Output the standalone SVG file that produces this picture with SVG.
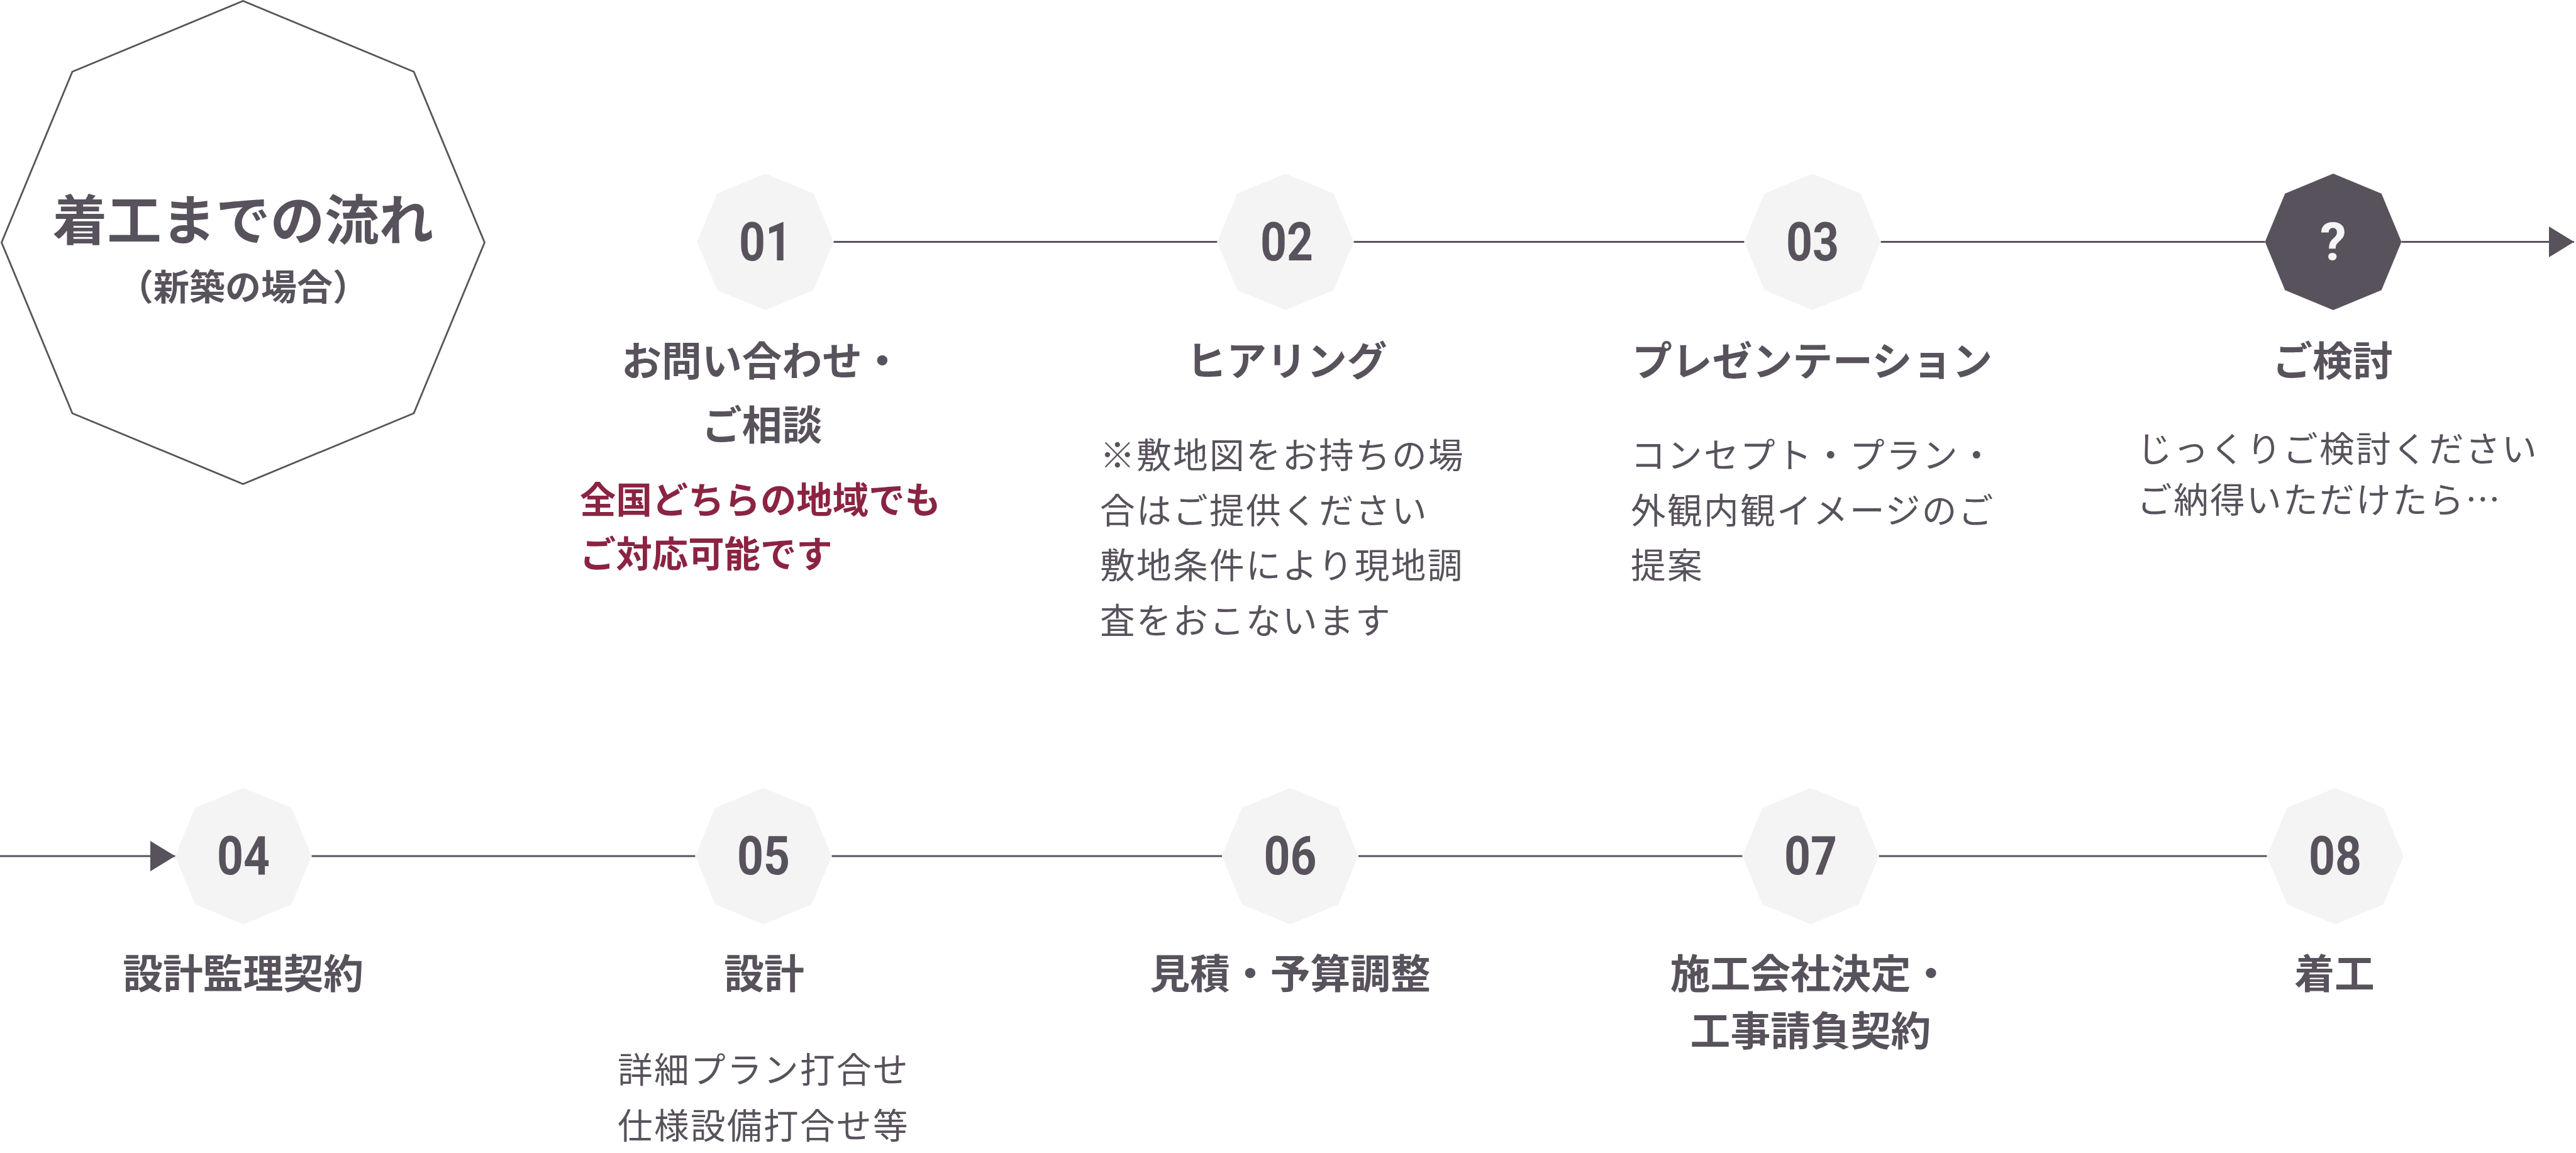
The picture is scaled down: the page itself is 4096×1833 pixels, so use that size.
<svg xmlns="http://www.w3.org/2000/svg" xmlns:xlink="http://www.w3.org/1999/xlink" width="4096" height="1833" viewBox="0 0 4096 1833">
<defs>
<style>
.jp{font-family:"Noto Sans CJK JP","Noto Sans CJK SC",sans-serif;fill:#58525c}
.hd{font-weight:700;font-size:63.8px;text-anchor:middle}
.body{font-weight:400;font-size:55.6px;letter-spacing:2.4px}
.red{font-weight:700;font-size:57.4px;fill:#8a2442}
.num{font-family:Roboto,"Liberation Sans",sans-serif;font-weight:700;font-size:86px;fill:#58525c;text-anchor:middle}
.oct{fill:#f4f4f4}
.conn{stroke:#58525c;stroke-width:3.2;fill:none}
</style>
<polygon id="oct" points="0,-108.5 76.7,-76.7 108.5,0 76.7,76.7 0,108.5 -76.7,76.7 -108.5,0 -76.7,-76.7"/>
<marker id="arr" markerUnits="userSpaceOnUse" markerWidth="42" markerHeight="50" refX="40" refY="24.5" orient="auto">
<path d="M0,0 L40,24.5 L0,49 z" fill="#58525c"/>
</marker>
</defs>
<rect width="4096" height="1833" fill="#ffffff"/>

<g id="connectors">
<line class="conn" x1="1325.5" y1="384.5" x2="1935.5" y2="384.5"/>
<line class="conn" x1="2152.5" y1="384.5" x2="2773.5" y2="384.5"/>
<line class="conn" x1="2990.5" y1="384.5" x2="3601.5" y2="384.5"/>
<line class="conn" x1="3818.5" y1="384.5" x2="4093" y2="384.5" marker-end="url(#arr)"/>
<line class="conn" x1="0" y1="1361" x2="278.5" y2="1361" marker-end="url(#arr)"/>
<line class="conn" x1="495.5" y1="1361" x2="1105.5" y2="1361"/>
<line class="conn" x1="1322.5" y1="1361" x2="1943" y2="1361"/>
<line class="conn" x1="2160" y1="1361" x2="2770.5" y2="1361"/>
<line class="conn" x1="2987.5" y1="1361" x2="3604.5" y2="1361"/>
</g>

<g id="title">
<polygon points="386.5,1.5 658,114 770.5,385.5 658,657 386.5,769.5 115,657 2.5,385.5 115,114" fill="none" stroke="#58525c" stroke-width="2.8"/>
<text class="jp" x="386.5" y="382" font-size="86.5" font-weight="700" text-anchor="middle">着工までの流れ</text>
<text class="jp" x="386.5" y="477" font-size="57" font-weight="700" text-anchor="middle">（新築の場合）</text>
</g>

<g id="step01">
<use href="#oct" x="1217" y="384.5" class="oct"/>
<text class="num" x="1217" y="413.5" textLength="84" lengthAdjust="spacingAndGlyphs">01</text>
<text class="jp hd" x="1211.6" y="597">お問い合わせ・</text>
<text class="jp hd" x="1211.6" y="699">ご相談</text>
<text class="jp red" x="922" y="816">全国どちらの地域でも</text>
<text class="jp red" x="922" y="902">ご対応可能です</text>
</g>

<g id="step02">
<use href="#oct" x="2044" y="384.5" class="oct"/>
<text class="num" x="2046" y="413.5" textLength="84" lengthAdjust="spacingAndGlyphs">02</text>
<text class="jp hd" x="2046" y="597">ヒアリング</text>
<text class="jp body" x="1749" y="744">※敷地図をお持ちの場</text>
<text class="jp body" x="1749" y="831.5">合はご提供ください</text>
<text class="jp body" x="1749" y="919">敷地条件により現地調</text>
<text class="jp body" x="1749" y="1006.5">査をおこないます</text>
</g>

<g id="step03">
<use href="#oct" x="2882" y="384.5" class="oct"/>
<text class="num" x="2882" y="413.5" textLength="84" lengthAdjust="spacingAndGlyphs">03</text>
<text class="jp hd" x="2881.5" y="597">プレゼンテーション</text>
<text class="jp body" x="2593" y="744">コンセプト・プラン・</text>
<text class="jp body" x="2593" y="831.5">外観内観イメージのご</text>
<text class="jp body" x="2593" y="919">提案</text>
</g>

<g id="step-consider">
<use href="#oct" x="3710" y="384.5" fill="#58525c"/>
<text x="3710" y="413.5" font-family="Roboto,'Liberation Sans',sans-serif" font-weight="700" font-size="84" fill="#f4f4f4" text-anchor="middle">?</text>
<text class="jp hd" x="3709" y="597">ご検討</text>
<text class="jp body" x="3398" y="734">じっくりご検討ください</text>
<text class="jp body" x="3398" y="815">ご納得いただけたら…</text>
</g>

<g id="step04">
<use href="#oct" x="387" y="1361" class="oct"/>
<text class="num" x="387" y="1390" textLength="84" lengthAdjust="spacingAndGlyphs">04</text>
<text class="jp hd" x="386.6" y="1571">設計監理契約</text>
</g>

<g id="step05">
<use href="#oct" x="1214" y="1361" class="oct"/>
<text class="num" x="1214" y="1390" textLength="84" lengthAdjust="spacingAndGlyphs">05</text>
<text class="jp hd" x="1215" y="1571">設計</text>
<text class="jp body" x="982" y="1721">詳細プラン打合せ</text>
<text class="jp body" x="982" y="1810">仕様設備打合せ等</text>
</g>

<g id="step06">
<use href="#oct" x="2051.5" y="1361" class="oct"/>
<text class="num" x="2051.5" y="1390" textLength="84" lengthAdjust="spacingAndGlyphs">06</text>
<text class="jp hd" x="2051.6" y="1571">見積・予算調整</text>
</g>

<g id="step07">
<use href="#oct" x="2879" y="1361" class="oct"/>
<text class="num" x="2879" y="1390" textLength="84" lengthAdjust="spacingAndGlyphs">07</text>
<text class="jp hd" x="2879" y="1571">施工会社決定・</text>
<text class="jp hd" x="2879" y="1662">工事請負契約</text>
</g>

<g id="step08">
<use href="#oct" x="3713" y="1361" class="oct"/>
<text class="num" x="3713" y="1390" textLength="84" lengthAdjust="spacingAndGlyphs">08</text>
<text class="jp hd" x="3712" y="1571">着工</text>
</g>
</svg>
